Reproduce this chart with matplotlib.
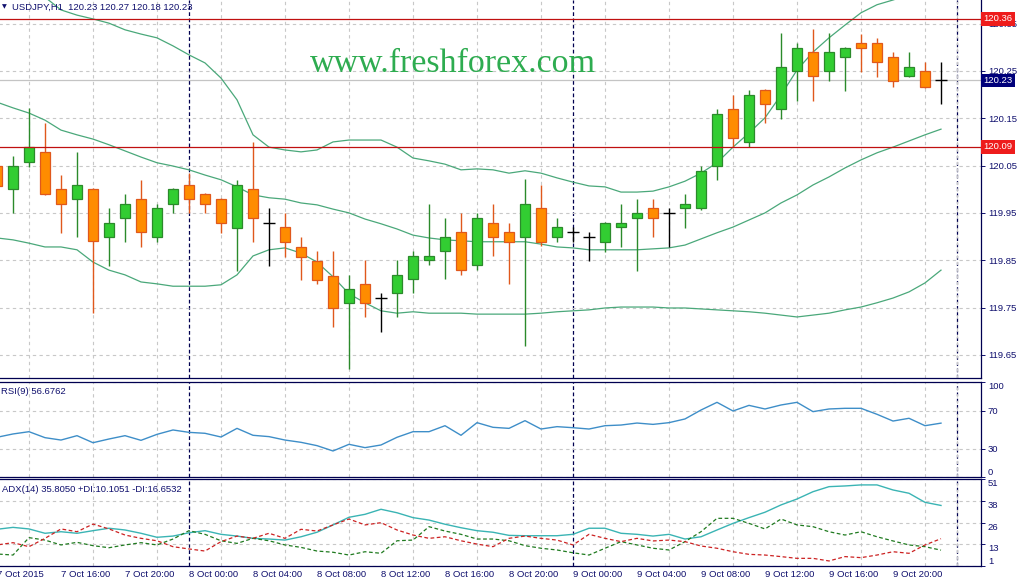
import numpy as np
import matplotlib.pyplot as plt
from matplotlib.transforms import blended_transform_factory

# USDJPY H1, bars from 7 Oct 12:00 to 9 Oct 23:00
opens = [120.049, 120.001, 120.058, 120.079, 120.001, 119.979, 120.001, 119.899, 119.939, 119.979,
         119.899, 119.969, 120.009, 119.990, 119.979, 119.918, 120.001, 119.929, 119.920, 119.878,
         119.848, 119.817, 119.760, 119.800, 119.770, 119.781, 119.810, 119.850, 119.869, 119.910,
         119.840, 119.929, 119.910, 119.899, 119.960, 119.899, 119.910, 119.899, 119.889, 119.920,
         119.939, 119.960, 119.950, 119.960, 119.960, 120.049, 120.170, 120.100, 120.210, 120.170,
         120.250, 120.290, 120.250, 120.280, 120.309, 120.309, 120.280, 120.239, 120.250, 120.230]
highs = [120.060, 120.070, 120.172, 120.140, 120.030, 120.079, 120.003, 119.960, 119.990, 120.020,
         119.969, 120.002, 120.034, 119.992, 119.981, 120.020, 120.100, 119.960, 119.950, 119.899,
         119.869, 119.869, 119.819, 119.850, 119.781, 119.850, 119.869, 119.969, 119.939, 119.950,
         119.950, 119.969, 119.929, 120.022, 120.009, 119.939, 119.920, 119.910, 119.931, 119.969,
         119.979, 119.979, 119.960, 119.990, 120.049, 120.170, 120.199, 120.210, 120.212, 120.330,
         120.309, 120.339, 120.330, 120.301, 120.328, 120.320, 120.290, 120.290, 120.269, 120.270]
lows = [120.000, 119.950, 120.047, 119.988, 119.907, 119.899, 119.738, 119.838, 119.889, 119.878,
        119.889, 119.950, 119.950, 119.950, 119.907, 119.827, 119.889, 119.838, 119.857, 119.808,
        119.800, 119.709, 119.620, 119.730, 119.698, 119.730, 119.781, 119.840, 119.810, 119.819,
        119.829, 119.859, 119.800, 119.669, 119.880, 119.889, 119.889, 119.848, 119.867, 119.878,
        119.827, 119.899, 119.878, 119.918, 119.956, 120.020, 120.089, 120.089, 120.140, 120.149,
        120.187, 120.187, 120.229, 120.208, 120.248, 120.237, 120.216, 120.237, 120.214, 120.180]
closes = [120.007, 120.049, 120.089, 119.990, 119.969, 120.009, 119.891, 119.929, 119.969, 119.910,
          119.960, 120.001, 119.979, 119.969, 119.929, 120.009, 119.939, 119.929, 119.889, 119.857,
          119.808, 119.749, 119.789, 119.760, 119.770, 119.819, 119.859, 119.859, 119.899, 119.829,
          119.939, 119.899, 119.889, 119.969, 119.889, 119.920, 119.910, 119.899, 119.929, 119.929,
          119.950, 119.939, 119.950, 119.969, 120.039, 120.159, 120.108, 120.199, 120.180, 120.258,
          120.299, 120.239, 120.290, 120.299, 120.299, 120.269, 120.229, 120.258, 120.216, 120.230]

bb_upper = [120.453, 120.438, 120.421, 120.406, 120.379, 120.368, 120.360, 120.351, 120.337, 120.328,
            120.320, 120.303, 120.284, 120.267, 120.235, 120.189, 120.115, 120.089, 120.083, 120.079,
            120.083, 120.100, 120.104, 120.104, 120.104, 120.089, 120.066, 120.060, 120.053, 120.041,
            120.043, 120.041, 120.034, 120.039, 120.034, 120.024, 120.015, 120.007, 120.005, 119.994,
            119.994, 119.996, 120.005, 120.017, 120.034, 120.056, 120.089, 120.119, 120.151, 120.199,
            120.252, 120.290, 120.320, 120.347, 120.373, 120.390, 120.400, 120.411, 120.417, 120.421]
bb_middle = [120.184, 120.172, 120.161, 120.146, 120.125, 120.115, 120.106, 120.094, 120.081, 120.068,
             120.056, 120.049, 120.041, 120.030, 120.020, 120.005, 119.988, 119.982, 119.979, 119.971,
             119.967, 119.958, 119.950, 119.937, 119.927, 119.916, 119.903, 119.897, 119.893, 119.891,
             119.889, 119.889, 119.889, 119.889, 119.884, 119.878, 119.876, 119.872, 119.872, 119.872,
             119.872, 119.874, 119.876, 119.882, 119.895, 119.908, 119.920, 119.935, 119.950, 119.971,
             119.988, 120.009, 120.026, 120.045, 120.062, 120.077, 120.089, 120.102, 120.115, 120.127]
bb_lower = [119.897, 119.893, 119.886, 119.878, 119.878, 119.872, 119.846, 119.829, 119.819, 119.804,
            119.800, 119.795, 119.795, 119.795, 119.798, 119.819, 119.859, 119.872, 119.876, 119.865,
            119.846, 119.815, 119.779, 119.760, 119.743, 119.738, 119.741, 119.738, 119.738, 119.738,
            119.736, 119.736, 119.736, 119.736, 119.738, 119.741, 119.743, 119.745, 119.749, 119.751,
            119.751, 119.751, 119.749, 119.749, 119.747, 119.745, 119.743, 119.741, 119.738, 119.734,
            119.730, 119.734, 119.738, 119.745, 119.751, 119.760, 119.770, 119.783, 119.802, 119.829]

rsi = [41.8, 45.3, 47.7, 41.4, 38.9, 43.5, 36.1, 40.0, 43.5, 38.6,
       44.9, 49.5, 47.0, 46.0, 42.1, 51.2, 43.9, 42.5, 38.9, 36.5,
       33.0, 27.4, 34.4, 30.9, 33.7, 41.8, 47.7, 47.7, 54.0, 43.9,
       57.2, 52.3, 51.2, 59.3, 50.5, 53.0, 51.9, 50.5, 54.0, 54.7,
       56.8, 55.4, 57.2, 61.1, 70.5, 78.6, 69.5, 75.4, 71.6, 75.8,
       78.6, 68.8, 71.6, 72.3, 72.3, 66.0, 58.9, 61.8, 54.0, 56.7]

adx = [22.1, 23.2, 22.3, 19.8, 20.7, 19.8, 21.3, 22.7, 21.7, 19.8,
       17.5, 18.2, 20.1, 21.3, 19.2, 18.2, 16.9, 16.5, 15.9, 17.8,
       20.4, 24.6, 29.0, 30.7, 33.6, 31.6, 28.8, 27.4, 25.0, 23.0,
       21.3, 20.4, 18.6, 18.4, 18.4, 18.4, 19.2, 22.7, 22.7, 19.8,
       19.2, 18.2, 19.2, 16.5, 17.8, 21.7, 25.5, 28.8, 31.9, 36.1,
       39.5, 43.7, 46.6, 47.0, 47.6, 47.6, 44.7, 42.8, 37.6, 35.8]
plus_di = [7.9, 7.3, 17.3, 15.9, 13.1, 14.6, 12.7, 11.5, 13.1, 14.4,
           13.1, 16.5, 21.3, 19.2, 15.5, 14.0, 16.9, 15.5, 13.1, 11.7,
           9.6, 8.9, 7.3, 9.2, 8.3, 15.5, 15.9, 23.6, 21.1, 19.2,
           16.5, 16.5, 15.5, 12.7, 11.2, 10.2, 8.6, 7.3, 11.2, 15.0,
           13.1, 11.2, 10.2, 15.0, 20.7, 28.4, 28.4, 25.5, 22.3, 28.0,
           24.6, 23.6, 20.7, 18.8, 20.7, 17.8, 15.4, 13.1, 12.1, 10.1]
minus_di = [13.1, 14.4, 12.1, 16.9, 22.3, 20.7, 25.1, 22.3, 18.8, 16.9,
            15.5, 12.1, 10.8, 9.6, 15.0, 18.2, 16.9, 19.8, 16.9, 22.1,
            21.1, 24.6, 28.0, 24.6, 25.9, 21.7, 18.8, 16.9, 17.8, 15.5,
            13.6, 12.1, 16.9, 18.2, 16.9, 15.9, 13.1, 19.2, 16.9, 15.0,
            16.9, 15.4, 15.9, 15.0, 12.5, 11.2, 9.2, 7.7, 7.3, 6.4,
            5.4, 5.4, 3.9, 6.4, 5.8, 7.3, 9.2, 8.3, 13.1, 16.7]

time_labels = ['7 Oct 2015', '7 Oct 16:00', '7 Oct 20:00', '8 Oct 00:00', '8 Oct 04:00',
               '8 Oct 08:00', '8 Oct 12:00', '8 Oct 16:00', '8 Oct 20:00', '9 Oct 00:00',
               '9 Oct 04:00', '9 Oct 08:00', '9 Oct 12:00', '9 Oct 16:00', '9 Oct 20:00']
label_bars = list(range(0, 60, 4))
day_bars = [12, 36, 60]

price_ticks = [119.65, 119.75, 119.85, 119.95, 120.05, 120.15, 120.25, 120.35]
red_levels = [120.36, 120.09]
bid = 120.23

NAVY = '#10106e'
GRID = '#c8c8c8'
FS = 6.8

plt.rcParams['font.family'] = ['Liberation Sans', 'DejaVu Sans']

W, H = 1023, 581
fig = plt.figure(figsize=(W / 100, H / 100), dpi=100)
fig.patch.set_facecolor('white')

def box(top, bottom):
    # axes start 3px left of the picture so the first bar sits half-cut at the edge
    return [-3 / W, 1 - bottom / H, 984 / W, (bottom - top) / H]

ax = fig.add_axes(box(0, 378))
ax_rsi = fig.add_axes(box(382, 477), sharex=ax)
ax_adx = fig.add_axes(box(479, 566), sharex=ax)

idx = np.arange(len(opens))
o, h, l, c = map(np.array, (opens, highs, lows, closes))

for a in (ax, ax_rsi, ax_adx):
    a.set_xlim(0, 61.5)
    a.spines['left'].set_visible(False)
    for s in ('right', 'bottom', 'top'):
        a.spines[s].set_color('#000050')
        a.spines[s].set_linewidth(0.9)
    a.yaxis.tick_right()
    a.tick_params(axis='y', colors=NAVY, labelcolor=NAVY, labelsize=FS, length=3, width=0.7, pad=2)
    a.set_xticks(np.arange(0, 62, 2), minor=True)
    a.grid(which='minor', axis='x', color=GRID, ls=(0, (3, 3)), lw=0.8, zorder=0)
    a.grid(which='major', axis='y', color=GRID, ls=(0, (3, 3)), lw=0.8, zorder=0)
    a.tick_params(axis='x', which='both', length=0)
    for d in day_bars:
        a.axvline(d, color='#000050', ls=(0, (3, 2)), lw=0.9, zorder=1)
ax.spines['top'].set_visible(False)

# main price panel
ax.set_ylim(119.601, 120.400)
ax.set_yticks(price_ticks)
ax.set_yticklabels([f'{p:.2f}' for p in price_ticks])
ax.tick_params(axis='x', labelbottom=False)

ax.axhline(bid, color='#c4c4c4', lw=0.9, zorder=1)
for band in (bb_upper, bb_middle, bb_lower):
    ax.plot(idx, band, color='#4aa87a', lw=0.9, zorder=2)

up = c > o
down = c < o
doji = c == o
wick_col = np.where(up, '#2b8a2b', np.where(down, '#e0581c', 'black'))
ax.vlines(idx, l, h, colors=list(wick_col), lw=1.0, zorder=3)
ax.bar(idx[up], (c - o)[up], bottom=o[up], width=0.64, color='#32cd32',
       edgecolor='#2b8a2b', linewidth=0.9, zorder=4)
ax.bar(idx[down], (o - c)[down], bottom=c[down], width=0.64, color='#ff8c00',
       edgecolor='#e0581c', linewidth=0.9, zorder=4)
ax.hlines(c[doji], idx[doji] - 0.36, idx[doji] + 0.36, colors='black', lw=1.0, zorder=4)

for lev in red_levels:
    ax.axhline(lev, color='#c01010', lw=0.9, zorder=5)

tr = blended_transform_factory(ax.transAxes, ax.transData)
for lev in red_levels:
    ax.text(1.0025, lev, f'{lev:.2f}', transform=tr, color='white', fontsize=FS, va='center',
            ha='left', zorder=10, bbox=dict(boxstyle='square,pad=0.25', fc='#ee1c1c', ec='none'))
ax.text(1.0025, bid, f'{bid:.2f}', transform=tr, color='white', fontsize=FS, va='center',
        ha='left', zorder=10, bbox=dict(boxstyle='square,pad=0.25', fc='#00007a', ec='none'))

fig.text(2 / W, 1 - 7 / H, '\u25bc', color=NAVY, fontsize=4.5, va='center', ha='left',
         family='DejaVu Sans')
fig.text(12 / W, 1 - 7 / H, f'USDJPY,H1  {opens[-1]:.2f} {highs[-1]:.2f} {lows[-1]:.2f} {closes[-1]:.2f}',
         color=NAVY, fontsize=FS, va='center', ha='left')
fig.text(453 / W, 1 - 72 / H, 'www.freshforex.com', color='#2eac50', fontsize=24.5,
         family='Liberation Serif', ha='center', va='baseline')

# RSI panel
ax_rsi.plot(idx, rsi, color='#3e8ec8', lw=1.0, zorder=3)
ax_rsi.set_ylim(0, 100)
ax_rsi.set_yticks([0, 30, 70, 100])
ax_rsi.set_yticklabels(['0', '30', '70', '100'])
lbls = ax_rsi.get_yticklabels()
lbls[0].set_va('bottom')
lbls[3].set_va('top')
ax_rsi.tick_params(axis='x', labelbottom=False)
fig.text(1 / W, 1 - 391 / H, 'RSI(9) 56.6762', color=NAVY, fontsize=FS, va='center', ha='left')

# ADX panel
ax_adx.plot(idx, adx, color='#3ab4b4', lw=1.0, zorder=3)
ax_adx.plot(idx, plus_di, color='#1f7a1f', lw=0.9, ls=(0, (3, 2)), zorder=3)
ax_adx.plot(idx, minus_di, color='#cc2222', lw=0.9, ls=(0, (3, 2)), zorder=3)
ax_adx.set_ylim(1, 51)
ax_adx.set_yticks([1, 13.5, 26, 38.5, 51])
ax_adx.set_yticklabels(['1', '13', '26', '38', '51'])
for i, t in enumerate(ax_adx.get_yticklabels()):
    t.set_va('bottom' if i == 0 else 'top')
fig.text(2 / W, 1 - 489 / H, 'ADX(14) 35.8050 +DI:10.1051 -DI:16.6532',
         color=NAVY, fontsize=FS, va='center', ha='left')

ax_adx.set_xticks(label_bars)
ax_adx.set_xticklabels(time_labels, ha='left')
ax_adx.tick_params(axis='x', which='major', length=0, pad=3, labelsize=FS, labelcolor=NAVY)

fig.savefig('out.png', dpi=100, facecolor='white')
